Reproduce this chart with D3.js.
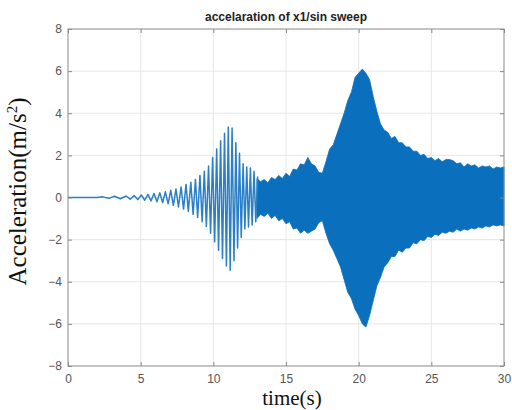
<!DOCTYPE html>
<html>
<head>
<meta charset="utf-8">
<script src="https://cdn.jsdelivr.net/npm/d3@7"></script>
<style>
  body { margin: 0; background: #fff; }
  svg { display: block; }
</style>
</head>
<body>
<div id="chart-area"></div>
<script>
var margin = { top: 29, right: 8, bottom: 44, left: 68 },
    width = 512 - margin.left - margin.right,
    height = 410 - margin.top - margin.bottom;

// tick values
var xTicks = [0, 5, 10, 15, 20, 25, 30];
var yTicks = [-8, -6, -4, -2, 0, 2, 4, 6, 8];

// early part of the sweep: alternating peaks / troughs
var extT = [0, 2.0, 2.4, 2.8, 3.2, 3.6, 4.0, 4.28, 4.55, 4.8, 5.05, 5.28, 5.5, 5.71, 5.92, 6.12,
    6.32, 6.51, 6.7, 6.89, 7.07, 7.25, 7.43, 7.6, 7.78, 7.95, 8.12, 8.28, 8.45, 8.61, 8.77, 8.92,
    9.08, 9.23, 9.38, 9.52, 9.67, 9.81, 9.95, 10.09, 10.23, 10.36, 10.5, 10.63, 10.77, 10.9,
    11.03, 11.16, 11.29, 11.42, 11.55, 11.67, 11.8, 11.92, 12.05, 12.17, 12.3, 12.42, 12.55,
    12.67, 12.8, 12.92, 13.05];
var extV = [0, 0, 0.03, -0.04, 0.06, -0.06, 0.07, -0.08, 0.09, -0.1, 0.12, -0.13, 0.15, -0.16, 0.19, -0.2,
    0.22, -0.24, 0.27, -0.3, 0.34, -0.37, 0.4, -0.45, 0.5, -0.55, 0.62, -0.66, 0.72, -0.8, 0.86, -0.95,
    1.05, -1.15, 1.25, -1.38, 1.5, -1.7, 1.9, -2.1, 2.3, -2.5, 2.7, -2.9, 3.05, -3.25,
    3.35, -3.45, 3.3, -3.0, 2.6, -2.4, 2.1, -1.9, 1.6, -1.5, 1.45, -1.4, 1.4,
    -1.3, 1.25, -1.15, 1.0];

// dense part (13 s .. 30 s): upper / lower envelope every 0.25 s
var bandT = [13, 13.25, 13.5, 13.75, 14, 14.25, 14.5, 14.75, 15, 15.25, 15.5, 15.75,
    16, 16.25, 16.5, 16.75, 17, 17.25, 17.5, 17.75, 18, 18.25, 18.5, 18.75,
    19, 19.25, 19.5, 19.75, 20, 20.25, 20.5, 20.75, 21, 21.25, 21.5, 21.75,
    22, 22.25, 22.5, 22.75, 23, 23.25, 23.5, 23.75, 24, 24.25, 24.5, 24.75,
    25, 25.25, 25.5, 25.75, 26, 26.25, 26.5, 26.75, 27, 27.25, 27.5, 27.75,
    28, 28.25, 28.5, 28.75, 29, 29.25, 29.5, 29.75, 30];
var bandHi = [0.9, 0.75, 0.85, 0.7, 0.95, 0.85, 1.05, 0.9, 1.15, 1.0, 1.35, 1.3,
    1.6, 1.55, 1.9, 1.6, 1.5, 1.2, 1.15, 1.7, 2.3, 2.5, 3.0, 3.5,
    4.0, 4.6, 5.0, 5.7, 5.9, 6.1, 5.9, 5.6, 4.8, 4.1, 3.5, 3.2,
    3.1, 2.8, 2.9, 2.6, 2.6, 2.4, 2.4, 2.2, 2.2, 2.0, 2.05, 1.85,
    1.9, 1.75, 1.85, 1.7, 1.8, 1.8, 1.75, 1.6, 1.65, 1.45, 1.6, 1.5,
    1.55, 1.4, 1.5, 1.45, 1.5, 1.35, 1.45, 1.4, 1.45];
var bandLo = [-1.0, -0.8, -0.9, -0.75, -1.0, -0.85, -1.1, -1.0, -1.25, -1.15, -1.5, -1.45,
    -1.7, -1.55, -1.7, -1.6, -1.5, -1.2, -1.1, -1.7, -2.2, -2.5, -2.9, -3.3,
    -3.9, -4.5, -4.8, -5.3, -5.6, -6.0, -6.15, -5.6, -4.9, -4.2, -3.8, -3.3,
    -3.1, -2.8, -2.8, -2.5, -2.6, -2.4, -2.4, -2.15, -2.2, -2.0, -2.05, -1.85,
    -1.9, -1.75, -1.8, -1.65, -1.7, -1.6, -1.65, -1.5, -1.6, -1.5, -1.55, -1.45,
    -1.5, -1.4, -1.45, -1.35, -1.4, -1.3, -1.35, -1.3, -1.35];

var svg = d3.select("#chart-area")
    .append("svg")
    .attr("width", width + margin.left + margin.right)
    .attr("height", height + margin.top + margin.bottom)
    .append("g")
    .attr("transform", `translate(${margin.left},${margin.top})`);

var x = d3.scaleLinear().domain([0, 30]).range([0, width]);
var y = d3.scaleLinear().domain([-8, 8]).range([height, 0]);

// grid
svg.append("g").selectAll("line").data(xTicks.slice(1, -1)).enter().append("line")
    .attr("x1", d => x(d)).attr("x2", d => x(d)).attr("y1", 0).attr("y2", height)
    .attr("stroke", "#e6e6e6");
svg.append("g").selectAll("line").data(yTicks.slice(1, -1)).enter().append("line")
    .attr("y1", d => y(d)).attr("y2", d => y(d)).attr("x1", 0).attr("x2", width)
    .attr("stroke", "#e6e6e6");

// signal
var early = extT.map((t, i) => ({ t: t, v: extV[i] }));
var band = bandT.map((t, i) => ({ t: t, hi: bandHi[i], lo: bandLo[i] }));

svg.append("path")
    .datum(band)
    .attr("fill", "#0a6fbd")
    .attr("stroke", "#0a6fbd")
    .attr("stroke-width", 0.8)
    .attr("d", d3.area().x(d => x(d.t)).y0(d => y(d.lo)).y1(d => y(d.hi)));

svg.append("path")
    .datum(early)
    .attr("fill", "none")
    .attr("stroke", "#2a7fc6")
    .attr("stroke-width", 1.5)
    .attr("stroke-linejoin", "round")
    .attr("d", d3.line().x(d => x(d.t)).y(d => y(d.v)));

// axes, ticks pointing inward
var axisColor = "#8a8a8a";
var xAxis = d3.axisBottom(x).tickValues(xTicks).tickSize(-4).tickPadding(8);
var yAxis = d3.axisLeft(y).tickValues(yTicks).tickSize(-4).tickPadding(6);

var gx = svg.append("g").attr("transform", `translate(0,${height})`).call(xAxis);
var gy = svg.append("g").call(yAxis);
var gt = svg.append("g").call(d3.axisTop(x).tickValues(xTicks).tickSize(-4).tickFormat(""));
var gr = svg.append("g").attr("transform", `translate(${width},0)`)
    .call(d3.axisRight(y).tickValues(yTicks).tickSize(-4).tickFormat(""));

[gx, gy, gt, gr].forEach(g => {
    g.select(".domain").remove();
    g.selectAll("line").attr("stroke", axisColor);
    g.selectAll("text")
        .attr("fill", "#555")
        .style("font-family", "Liberation Sans, Arial, sans-serif")
        .style("font-size", "12px");
});

svg.append("rect")
    .attr("width", width).attr("height", height)
    .attr("fill", "none").attr("stroke", axisColor).attr("stroke-width", 1);

// title and labels
svg.append("text")
    .attr("x", width / 2).attr("y", -8)
    .attr("text-anchor", "middle")
    .style("font-family", "Liberation Sans, Arial, sans-serif")
    .style("font-weight", "bold").style("font-size", "12px")
    .attr("fill", "#222")
    .text("accelaration of x1/sin sweep");

svg.append("text")
    .attr("x", width / 2 + 6).attr("y", height + 39)
    .attr("text-anchor", "middle")
    .style("font-family", "Liberation Serif, Times New Roman, serif")
    .style("font-size", "21px")
    .attr("fill", "#111")
    .text("time(s)");

var ylab = svg.append("text")
    .attr("transform", "rotate(-90)")
    .attr("x", -height / 2 + 6).attr("y", -42)
    .attr("text-anchor", "middle")
    .style("font-family", "Liberation Serif, Times New Roman, serif")
    .style("font-size", "25px")
    .attr("fill", "#111");
ylab.append("tspan").text("Acceleration(m/s");
ylab.append("tspan").attr("dy", -9).style("font-size", "15px").text("2");
ylab.append("tspan").attr("dy", 9).text(")");
</script>
</body>
</html>
